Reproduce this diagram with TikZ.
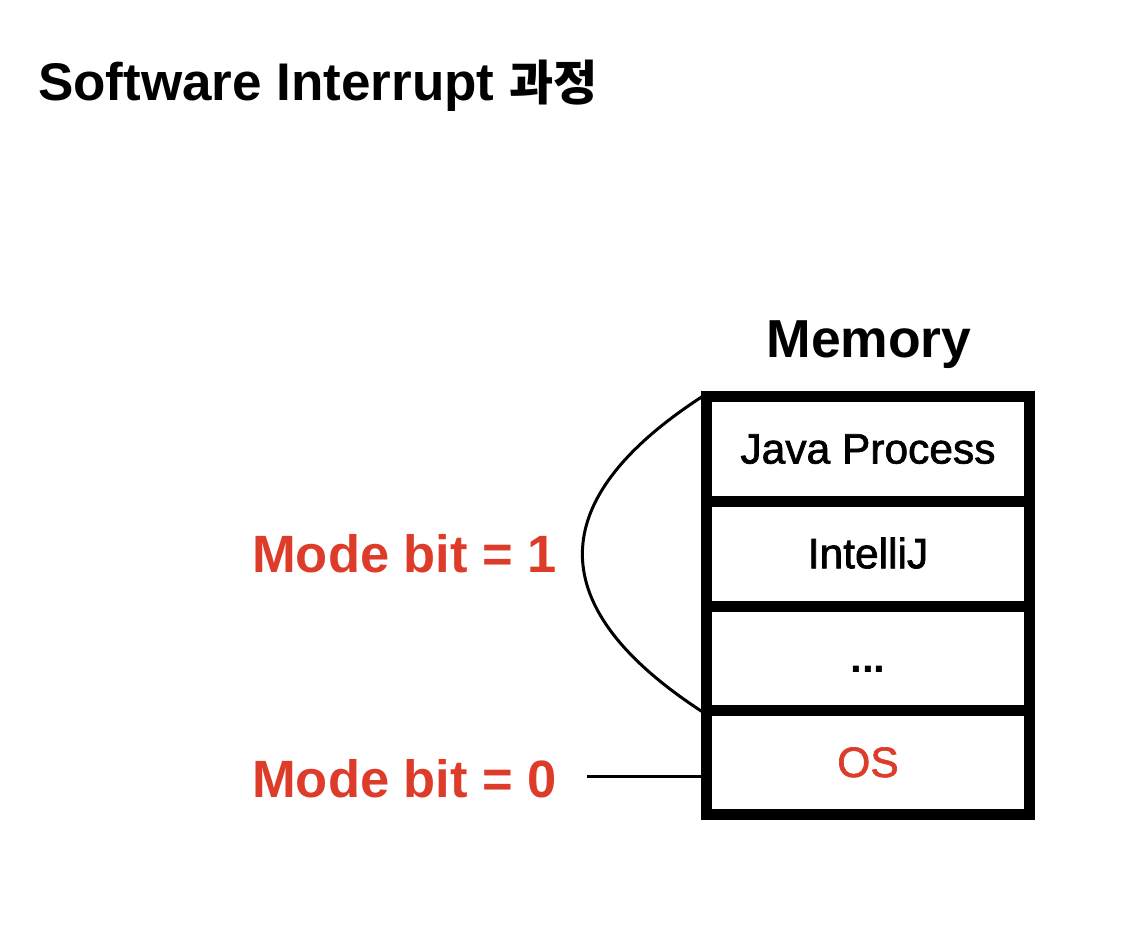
\documentclass[tikz,border=0pt]{standalone}
\usepackage{fontspec}
\setmainfont{Liberation Sans}
\newfontfamily\krfont{Noto Sans CJK KR Bold}
\newfontfamily\medfont[FakeBold=1.6]{Liberation Sans}
\usetikzlibrary{calc}
\definecolor{modered}{RGB}{221,60,42}
\begin{document}
\begin{tikzpicture}[x=1pt,y=-1pt,
  cell/.style={draw=black, line width=11pt, minimum width=323pt, minimum height=104.5pt,
    inner sep=0pt, outer sep=0pt, text height=29pt, text depth=0pt,
    font=\fontsize{42.5}{50}\selectfont\medfont},
  modelabel/.style={anchor=base west, inner sep=0pt, text=modered,
    font=\fontsize{52.5}{62}\selectfont\bfseries},
  thinline/.style={line width=3pt, draw=black}]
\useasboundingbox (0,0) rectangle (1140,934);
\node[anchor=base west, inner sep=0pt, font=\fontsize{53}{60}\selectfont\bfseries] (title) at (38,100) {Software Interrupt {\fontsize{48}{60}\selectfont\krfont 과정}};
\node[anchor=base, inner sep=0pt, font=\fontsize{53.5}{62}\selectfont\bfseries] (memlabel) at (869,357) {Memory};
\node[cell] (java) at (868,449) {Java Process};
\node[cell] (intellij) at (868,553.75) {IntelliJ};
\node[cell, font=\fontsize{42.5}{50}\selectfont\bfseries] (dots) at (868,658.25) {...};
\node[cell, text=modered] (os) at (868,762.5) {OS};
\node[modelabel] (mb1) at (252,572) {Mode bit = 1};
\node[modelabel] (mb0) at (252,797) {Mode bit = 0};
\draw[thinline] ($(java.north west)+(-3,-1)$) .. controls (542,500) and (542,608) .. ($(dots.south west)+(-3,2)$);
\coordinate (mb0end) at (587,776);
\draw[thinline] (mb0end) -- (mb0end -| os.west);
\end{tikzpicture}
\end{document}
